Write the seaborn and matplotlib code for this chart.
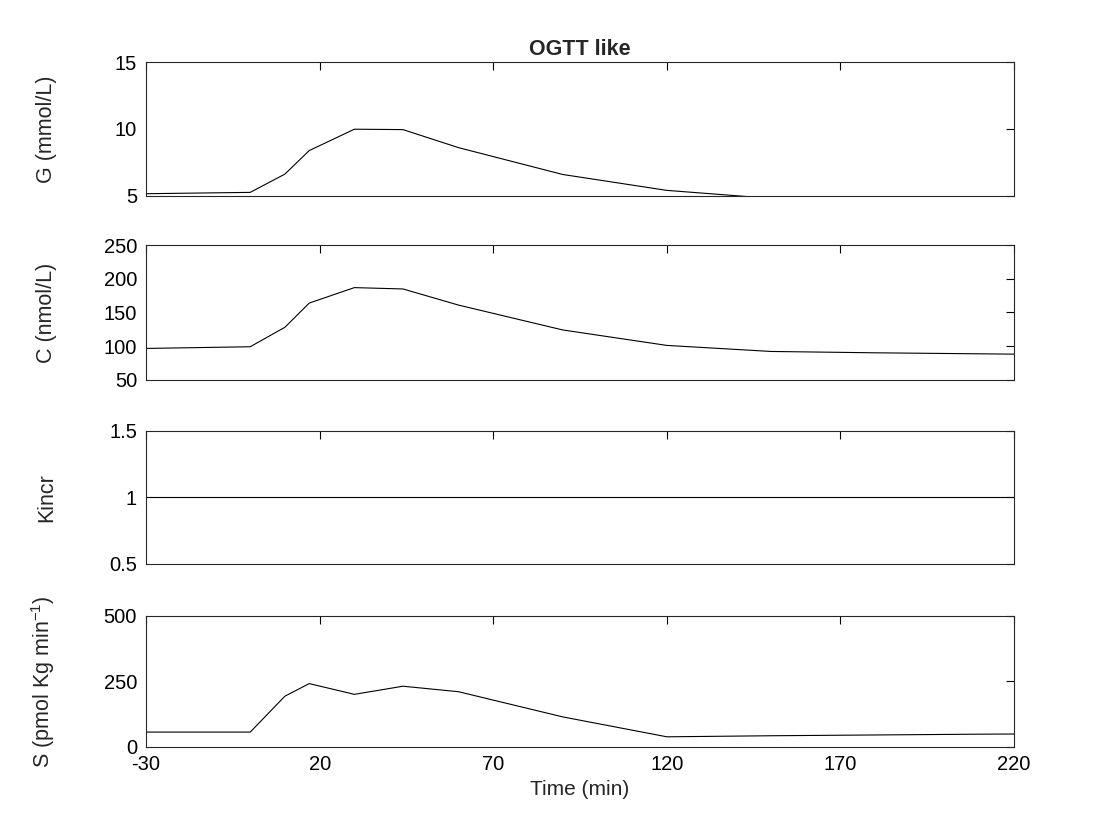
import matplotlib
matplotlib.use("Agg")
import matplotlib.pyplot as plt
import seaborn as sns
import pandas as pd

# time points (min)
time = [-30, 0, 10, 17, 30, 44, 60, 90, 120, 150, 180, 210, 240]

# glucose (mmol/L)
glucose = [5.15, 5.25, 6.62, 8.38, 9.98, 9.95, 8.6, 6.59, 5.4, 4.8, 4.6, 4.5, 4.4]
# c-peptide (nmol/L)
cpep = [96.5, 99, 128, 164, 187, 185, 161, 124, 101, 92, 90, 88.5, 87]
# Kincr
kincr = [1, 1, 1, 1, 1, 1, 1, 1, 1, 1, 1, 1, 1]
# secretion
secr = [56, 56, 193, 241, 200, 231, 210, 114, 38, 42, 45, 48, 50]

df = pd.DataFrame({"time": time, "G": glucose, "C": cpep, "Kincr": kincr, "S": secr})

panels = [
    ("G", "G (mmol/L)", (5, 15), [5, 10, 15]),
    ("C", "C (nmol/L)", (50, 250), [50, 100, 150, 200, 250]),
    ("Kincr", "Kincr", (0.5, 1.5), [0.5, 1, 1.5]),
    ("S", "S (pmol Kg min$^{-1}$)", (0, 500), [0, 250, 500]),
]
xticks = [-30, 20, 70, 120, 170, 220]

sns.set_style("white")
plt.rcParams["font.family"] = ["Liberation Sans", "DejaVu Sans"]
plt.rcParams["font.size"] = 14.5
plt.rcParams["mathtext.fontset"] = "custom"
plt.rcParams["mathtext.rm"] = "Liberation Sans"

fig = plt.figure(figsize=(11.2, 8.4), dpi=100)

# axes boxes [left, bottom, width, height] in figure fractions
left, width = 0.1304, 0.7750
boxes = [(0.767, 0.159), (0.548, 0.160), (0.329, 0.158), (0.111, 0.156)]

for i, ((col, label, ylim, yticks), (bottom, height)) in enumerate(zip(panels, boxes)):
    ax = fig.add_axes([left, bottom, width, height])
    sns.lineplot(data=df, x="time", y=col, ax=ax, color="black", linewidth=0.8)
    ax.set_xlim(-30, 220)
    ax.set_ylim(*ylim)
    ax.set_xticks(xticks)
    ax.set_yticks(yticks)
    ax.set_yticklabels([f"{v:g}" for v in yticks])
    ax.set_ylabel(label, fontsize=15.5)
    ax.yaxis.set_label_coords(-0.1025, 0.5)
    ax.tick_params(axis="both", direction="in", length=6, width=0.8, top=True, right=True,
                   labelsize=14.5, colors="black")
    ax.tick_params(axis="y", pad=6.5)
    ax.tick_params(axis="x", pad=6)
    for s in ax.spines.values():
        s.set_linewidth(0.8)
        s.set_color("#262626")
    if i < 3:
        ax.set_xticklabels([])
        ax.set_xlabel("")
    else:
        ax.set_xticklabels([str(v) for v in xticks])
        ax.set_xlabel("Time (min)", fontsize=15, labelpad=4)
    if i == 0:
        ax.set_title("OGTT like", fontsize=15.5, fontweight="bold", pad=5)

fig.savefig("out.png", dpi=100, facecolor="white")
